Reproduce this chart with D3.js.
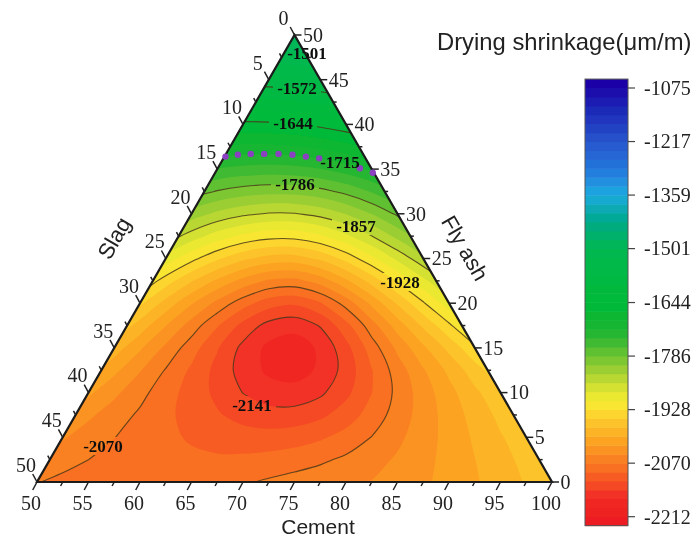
<!DOCTYPE html>
<html>
<head>
<meta charset="utf-8">
<script src="https://cdn.jsdelivr.net/npm/d3@7"></script>
<style>
    html, body { margin: 0; padding: 0; background: #fff; }
    svg { display: block; }
    .tick-label { font-family: "Liberation Serif", serif; font-size: 20px; fill: #222; }
    .axis-title { font-family: "Liberation Sans", sans-serif; font-size: 21px; fill: #222; }
    .contour-label { font-family: "Liberation Serif", serif; font-size: 17px; font-weight: bold; fill: #111; }
</style>
</head>
<body>
<script>
// grid nodes: position along the cement axis, and fly ash
const gridH = d3.range(47.5, 102.6, 2.5);
const gridF = d3.range(-2.5, 52.6, 2.5);

// drying shrinkage at the grid nodes, one row per fly ash value
const shrinkage = [
    [-2078,-2092,-2095,-2092,-2088,-2084,-2080,-2076,-2070,-2060,-2052,-2048,-2046,-2044,-2038,-2031,-2024,-2016,-2005,-1992,-1978,-1963,-1950],
    [-2062,-2074,-2084,-2080,-2079,-2080,-2081,-2080,-2077,-2068,-2058,-2054,-2052,-2051,-2045,-2036,-2027,-2016,-2003,-1988,-1973,-1958,-1945],
    [-2030,-2048,-2062,-2071,-2079,-2084,-2088,-2090,-2091,-2090,-2085,-2078,-2071,-2062,-2053,-2041,-2029,-2016,-2000,-1984,-1969,-1955,-1943],
    [-2000,-2030,-2050,-2062,-2071,-2080,-2089,-2098,-2105,-2110,-2111,-2106,-2097,-2085,-2073,-2052,-2034,-2016,-1996,-1977,-1960,-1948,-1938],
    [-1960,-2000,-2030,-2051,-2063,-2077,-2092,-2105,-2117,-2126,-2135,-2137,-2131,-2108,-2085,-2062,-2035,-2013,-1990,-1968,-1950,-1942,-1935],
    [-1930,-1965,-1995,-2022,-2045,-2068,-2088,-2106,-2124,-2154,-2158,-2164,-2153,-2136,-2098,-2070,-2036,-2010,-1987,-1955,-1940,-1930,-1920],
    [-1900,-1930,-1960,-1985,-2018,-2048,-2077,-2101,-2130,-2158,-2183,-2196,-2179,-2140,-2100,-2066,-2030,-1998,-1970,-1935,-1925,-1915,-1905],
    [-1860,-1890,-1930,-1960,-1988,-2027,-2059,-2088,-2118,-2170,-2189,-2202,-2186,-2141,-2084,-2041,-2010,-1984,-1935,-1890,-1870,-1860,-1850],
    [-1835,-1865,-1895,-1925,-1950,-1985,-2025,-2065,-2090,-2151,-2167,-2194,-2159,-2110,-2062,-2015,-1970,-1934,-1895,-1860,-1840,-1830,-1820],
    [-1800,-1825,-1850,-1880,-1905,-1945,-1992,-2030,-2063,-2083,-2113,-2140,-2116,-2084,-2024,-1976,-1930,-1890,-1850,-1815,-1790,-1775,-1765],
    [-1760,-1785,-1810,-1840,-1870,-1905,-1941,-1977,-2010,-2040,-2068,-2081,-2035,-2003,-1965,-1925,-1888,-1850,-1815,-1785,-1760,-1745,-1735],
    [-1725,-1750,-1775,-1800,-1830,-1860,-1893,-1921,-1948,-1970,-1988,-1992,-1976,-1944,-1910,-1873,-1843,-1810,-1780,-1755,-1735,-1720,-1710],
    [-1705,-1725,-1745,-1765,-1785,-1810,-1835,-1868,-1895,-1910,-1921,-1922,-1912,-1885,-1857,-1820,-1785,-1755,-1730,-1710,-1695,-1685,-1680],
    [-1685,-1700,-1715,-1735,-1755,-1775,-1795,-1821,-1841,-1855,-1861,-1862,-1848,-1833,-1815,-1782,-1755,-1730,-1710,-1695,-1680,-1672,-1665],
    [-1670,-1680,-1690,-1705,-1720,-1735,-1755,-1775,-1789,-1797,-1803,-1805,-1798,-1787,-1764,-1735,-1715,-1700,-1685,-1670,-1660,-1650,-1645],
    [-1655,-1660,-1670,-1680,-1690,-1702,-1715,-1728,-1741,-1746,-1747,-1748,-1740,-1726,-1707,-1690,-1675,-1662,-1650,-1640,-1632,-1625,-1620],
    [-1625,-1630,-1640,-1650,-1660,-1670,-1680,-1690,-1697,-1698,-1697,-1696,-1686,-1675,-1660,-1648,-1637,-1628,-1620,-1612,-1606,-1600,-1596],
    [-1600,-1605,-1612,-1620,-1628,-1635,-1642,-1648,-1650,-1648,-1648,-1646,-1637,-1628,-1618,-1610,-1602,-1595,-1590,-1585,-1580,-1576,-1572],
    [-1560,-1566,-1572,-1578,-1584,-1590,-1595,-1600,-1605,-1606,-1603,-1600,-1592,-1580,-1570,-1562,-1555,-1549,-1543,-1538,-1534,-1530,-1526],
    [-1520,-1525,-1530,-1535,-1540,-1545,-1550,-1555,-1558,-1560,-1558,-1555,-1550,-1540,-1533,-1526,-1520,-1515,-1510,-1505,-1500,-1496,-1492],
    [-1490,-1493,-1496,-1499,-1502,-1505,-1508,-1510,-1513,-1515,-1514,-1511,-1507,-1502,-1497,-1493,-1489,-1485,-1482,-1479,-1476,-1473,-1470],
    [-1450,-1452,-1454,-1456,-1458,-1460,-1462,-1464,-1466,-1468,-1468,-1467,-1463,-1460,-1456,-1453,-1450,-1447,-1444,-1441,-1438,-1436,-1434],
    [-1412,-1414,-1416,-1418,-1420,-1422,-1424,-1426,-1428,-1430,-1430,-1429,-1425,-1422,-1418,-1415,-1412,-1409,-1406,-1403,-1400,-1398,-1396]
];

const cementTicks = [50, 55, 60, 65, 70, 75, 80, 85, 90, 95, 100];
const flyAshTicks = [0, 5, 10, 15, 20, 25, 30, 35, 40, 45, 50];
const slagTicks = [0, 5, 10, 15, 20, 25, 30, 35, 40, 45, 50];
const barTicks = [-1075, -1217, -1359, -1501, -1644, -1786, -1928, -2070, -2212];

// contour bands go up from the lowest level in equal steps, lines on most third levels
const levelStep = (2212 - 1075) / 48;
const bandLevels = d3.range(-1, 50).map(i => -2212 + i * levelStep);
const lineLevels = [-2141, -2070, -1928, -1857, -1786, -1644, -1572, -1501];
const contourLabels = ["-1501", "-1572", "-1644", "-1715", "-1786", "-1857", "-1928", "-2070", "-2141"];
const labelSpots = [[307, 53], [297, 88], [293, 123], [340, 162], [295, 184], [356, 226], [400, 282], [103, 446], [252, 405]];

// purple points on the -1715 level
const dotCement = [50.1, 51.2, 52.4, 53.7, 55.1, 56.5, 57.9, 59.3, 63.8, 65.3];
const dotFlyAsh = [36.4, 36.6, 36.7, 36.7, 36.7, 36.6, 36.4, 36.2, 35.1, 34.6];

const stopValues = [-2212, -2165, -2141, -2118, -2094, -2070, -2046, -2022, -1999, -1975, -1951, -1928, -1904, -1880, -1857, -1833, -1810, -1786, -1762, -1738, -1715, -1690, -1644, -1501, -1430, -1359, -1290, -1217, -1140, -1075];
const stopColors = ["#ee2024", "#f02624", "#f33c28", "#f65426", "#f8651f", "#fa7820", "#fb8a20", "#fc9c22", "#fcac26", "#fcbb28", "#fccb2c", "#fbdf2e", "#f5ec32", "#e0e432", "#c8dc32", "#aad232", "#8cca32", "#6ec432", "#50bc30", "#32b830", "#1cb630", "#0ab632", "#00ba38", "#00b850", "#00aa88", "#1eaae0", "#2378dc", "#2855cd", "#1e2db9", "#1c0aaa"];

const width = 697, height = 539;
const color = d3.scaleLinear().domain(stopValues).range(stopColors);
const xScale = d3.scaleLinear().domain([50, 100]).range([37, 552]);
const yScale = d3.scaleLinear().domain([0, 50]).range([482, 35]);
const barY = d3.scaleLinear().domain([-2212, -1075]).range([516.7, 88]);

function point(cement, flyAsh) {
    return [xScale(cement + flyAsh / 2), yScale(flyAsh)]; }

const svg = d3.select("body").append("svg")
    .attr("width", width)
    .attr("height", height);

const defs = svg.append("defs");
const corners = [point(50, 0), point(100, 0), point(50, 50)];
defs.append("clipPath").attr("id", "triangle")
    .append("polygon").attr("points", corners.join(" "));

// the reference is a slightly soft scan
defs.append("filter").attr("id", "soft")
    .attr("filterUnits", "userSpaceOnUse")
    .attr("x", 0).attr("y", 0).attr("width", width).attr("height", height)
    .append("feGaussianBlur").attr("stdDeviation", 0.45);

const labelMask = defs.append("mask").attr("id", "gaps").attr("maskUnits", "userSpaceOnUse")
    .attr("x", 0).attr("y", 0).attr("width", width).attr("height", height);
labelMask.append("rect").attr("width", width).attr("height", height).attr("fill", "#fff");
labelMask.selectAll("rect.gap")
    .data(labelSpots)
    .enter().append("rect")
        .attr("class", "gap")
        .attr("x", d => d[0] - 24).attr("y", d => d[1] - 9)
        .attr("width", 48).attr("height", 18)
        .attr("fill", "#000");

const root = svg.append("g").attr("filter", "url(#soft)");
root.append("rect").attr("width", width).attr("height", height).attr("fill", "#fff");

// d3.contours works in grid units with nodes at half cells
const gridX = d3.scaleLinear().domain([0.5, gridH.length - 0.5]).range([xScale(gridH[0]), xScale(gridH[gridH.length - 1])]);
const gridY = d3.scaleLinear().domain([0.5, gridF.length - 0.5]).range([yScale(gridF[0]), yScale(gridF[gridF.length - 1])]);

const contours = d3.contours()
    .size([gridH.length, gridF.length])
    .smooth(true);

// take the wobble of hand reading out of the isolines
const values = Float64Array.from(shrinkage.flat());
d3.blur2({data: values, width: gridH.length, height: gridF.length}, 0.25);

const ringLine = d3.line()
    .x(d => gridX(d[0]))
    .y(d => gridY(d[1]))
    .curve(d3.curveCatmullRomClosed.alpha(0.5));

function contourPath(level) {
    const shape = contours.contour(values, level);
    return shape.coordinates
        .map(poly => poly.map(ring => ringLine(ring.slice(0, -1))).join(""))
        .join(""); }

const field = root.append("g").attr("clip-path", "url(#triangle)");

field.selectAll("path.band")
    .data(bandLevels)
    .enter().append("path")
        .attr("class", "band")
        .attr("d", d => contourPath(d))
        .attr("fill-rule", "evenodd")
        .attr("fill", d => color(d + levelStep / 2));

field.append("g").attr("mask", "url(#gaps)")
    .selectAll("path.line")
    .data(lineLevels)
    .enter().append("path")
        .attr("class", "line")
        .attr("d", d => contourPath(d))
        .attr("fill", "none")
        .attr("stroke", "#4a3a1c")
        .attr("stroke-opacity", 0.85)
        .attr("stroke-width", 1.1);

root.append("polygon")
    .attr("points", corners.join(" "))
    .attr("fill", "none")
    .attr("stroke", "#1a1a1a")
    .attr("stroke-width", 2.2);

// ticks on the three sides, with a short one halfway between labels
function drawTicks(cls, ticks, spot, dx, dy, labelDx, labelDy, anchor, toStep) {
    const g = root.append("g").attr("class", cls);
    d3.range(0, 50.1, 2.5).forEach(step => {
        const p = spot(step);
        const major = step % 5 === 0;
        g.append("line")
            .attr("x1", p[0]).attr("y1", p[1])
            .attr("x2", p[0] + (major ? dx : dx / 2)).attr("y2", p[1] + (major ? dy : dy / 2))
            .attr("stroke", "#222")
            .attr("stroke-width", 1.5); });
    g.selectAll("text")
        .data(ticks)
        .enter().append("text")
            .attr("class", "tick-label")
            .attr("x", d => spot(toStep(d))[0] + labelDx)
            .attr("y", d => spot(toStep(d))[1] + labelDy)
            .attr("dy", "0.34em")
            .attr("text-anchor", anchor)
            .text(d => d); }

drawTicks("cement", cementTicks, s => point(50 + s, 0), -4.3, 8, -6, 21, "middle", d => d - 50);
drawTicks("flyash", flyAshTicks, s => point(100 - s, s), 7, 0, 8.5, 0, "start", d => d);
drawTicks("slag", slagTicks, s => point(50, 50 - s), -4.3, -8, -11, -17, "middle", d => d);

root.append("text").attr("class", "axis-title")
    .attr("x", 318).attr("y", 534)
    .attr("text-anchor", "middle")
    .text("Cement");
root.append("text").attr("class", "axis-title")
    .attr("transform", "translate(114,238) rotate(-60)")
    .attr("dy", "0.35em")
    .attr("text-anchor", "middle")
    .style("font-size", "22px")
    .text("Slag");
root.append("text").attr("class", "axis-title")
    .attr("transform", "translate(465,248) rotate(60)")
    .attr("dy", "0.35em")
    .attr("text-anchor", "middle")
    .style("font-size", "22px")
    .text("Fly ash");
root.append("text").attr("class", "axis-title")
    .attr("x", 437).attr("y", 50)
    .style("font-size", "23.8px")
    .text("Drying shrinkage(μm/m)");

root.selectAll("circle.dot")
    .data(dotCement)
    .enter().append("circle")
        .attr("class", "dot")
        .attr("cx", (d, i) => point(d, dotFlyAsh[i])[0])
        .attr("cy", (d, i) => point(d, dotFlyAsh[i])[1])
        .attr("r", 3.2)
        .attr("fill", "#8a3fc0");

root.selectAll("text.contour-label")
    .data(contourLabels)
    .enter().append("text")
        .attr("class", "contour-label")
        .attr("x", (d, i) => labelSpots[i][0])
        .attr("y", (d, i) => labelSpots[i][1])
        .attr("dy", "0.34em")
        .attr("text-anchor", "middle")
        .text(d => d);

// colour bar
const bar = root.append("g").attr("class", "colorbar");
bar.selectAll("rect")
    .data(bandLevels.slice(0, -1))
    .enter().append("rect")
        .attr("x", 585)
        .attr("width", 43)
        .attr("y", d => barY(d + levelStep))
        .attr("height", d => barY(d) - barY(d + levelStep) + 0.5)
        .attr("fill", d => color(d + levelStep / 2));
bar.append("rect")
    .attr("x", 585).attr("y", barY(-1075 + levelStep))
    .attr("width", 43).attr("height", barY(-2212 - levelStep) - barY(-1075 + levelStep))
    .attr("fill", "none")
    .attr("stroke", "#555")
    .attr("stroke-width", 1);
bar.selectAll("line")
    .data(barTicks)
    .enter().append("line")
        .attr("x1", 628).attr("x2", 635)
        .attr("y1", d => barY(d)).attr("y2", d => barY(d))
        .attr("stroke", "#444")
        .attr("stroke-width", 1.2);
bar.selectAll("text")
    .data(barTicks)
    .enter().append("text")
        .attr("class", "tick-label")
        .attr("x", 644)
        .attr("y", d => barY(d))
        .attr("dy", "0.34em")
        .text(d => d);
</script>
</body>
</html>
